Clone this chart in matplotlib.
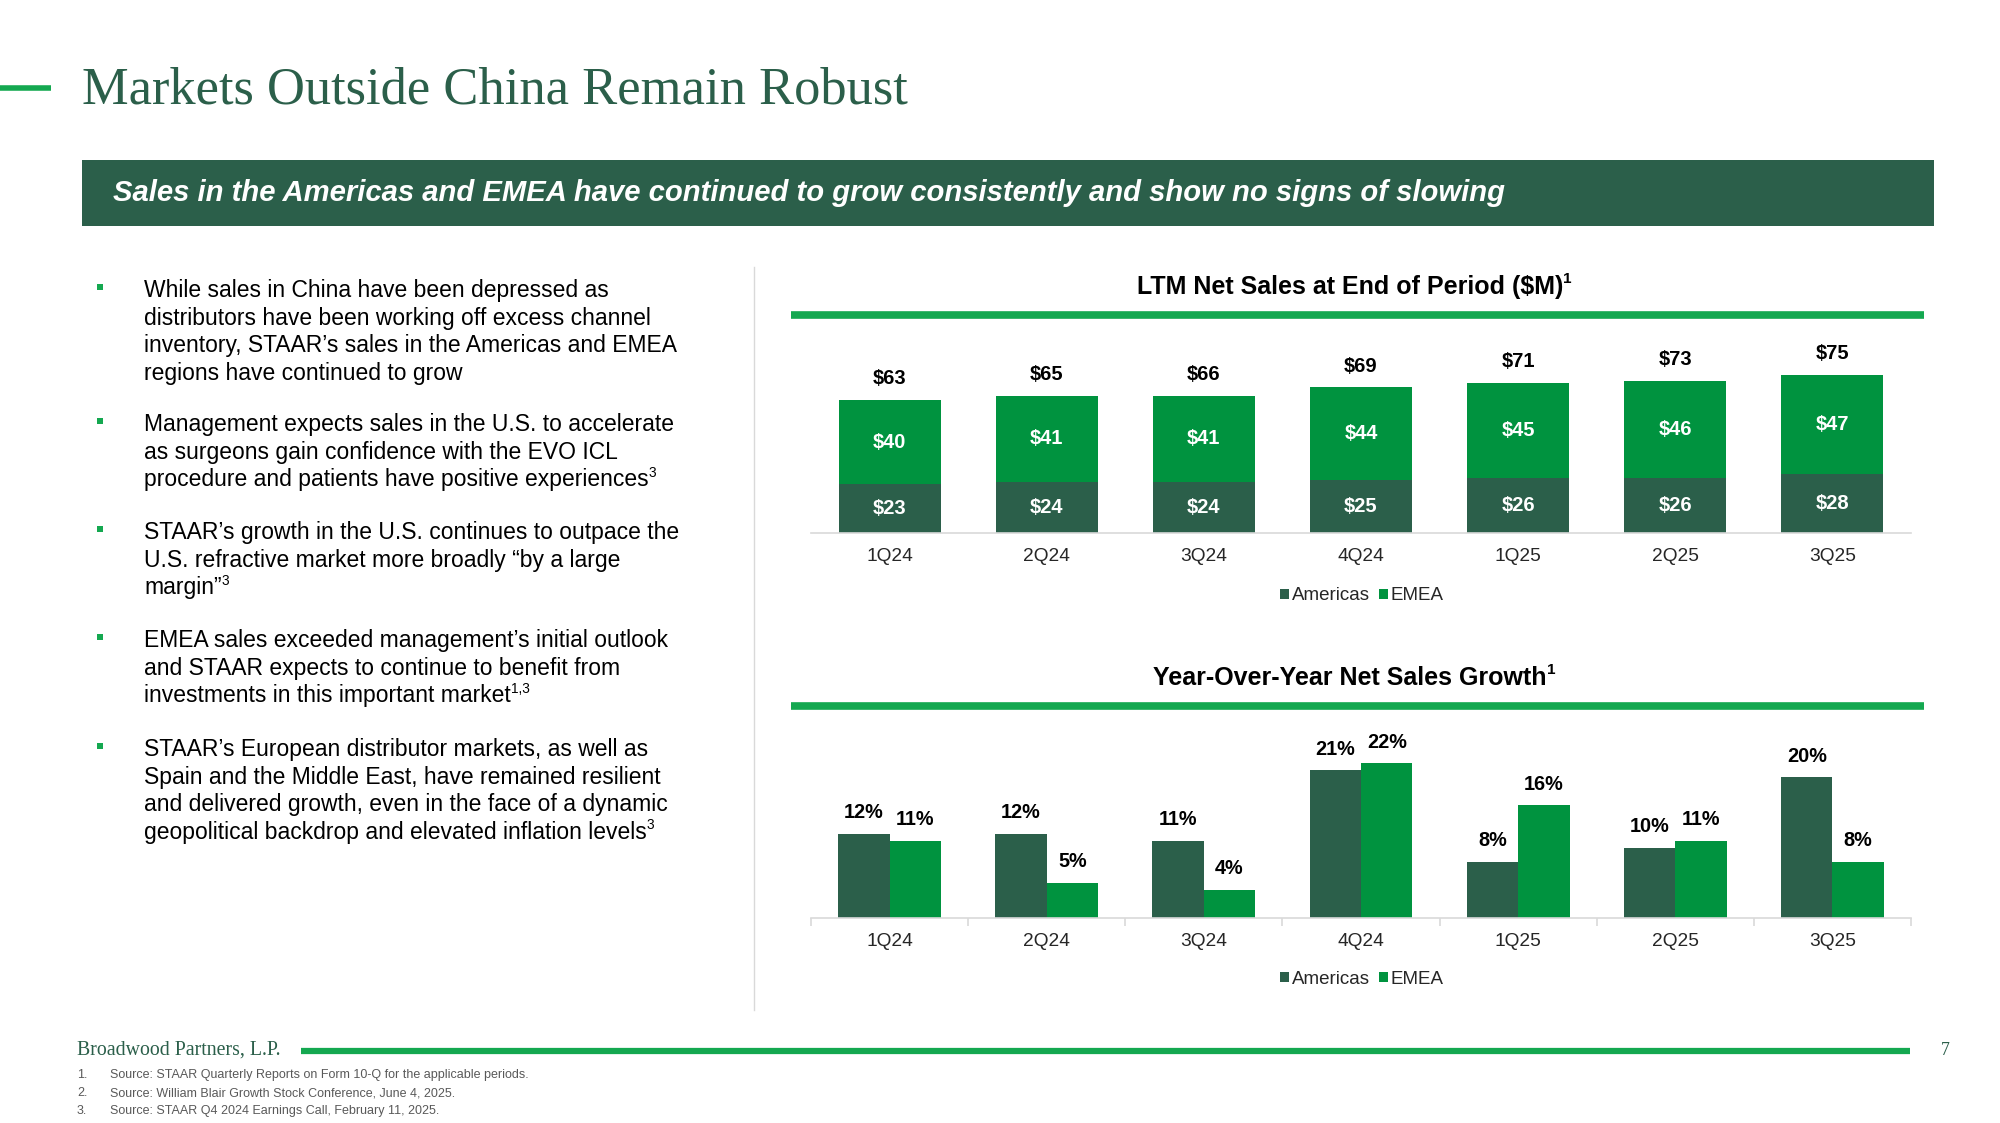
import matplotlib
matplotlib.use("Agg")
import matplotlib.pyplot as plt
from matplotlib.patches import Rectangle, Patch
from matplotlib.lines import Line2D
import numpy as np

# ---------------- data ----------------
quarters = ['1Q24', '2Q24', '3Q24', '4Q24', '1Q25', '2Q25', '3Q25']
ltm_americas = [23, 24, 24, 25, 26, 26, 28]
ltm_emea = [40, 41, 41, 44, 45, 46, 47]
ltm_total = [63, 65, 66, 69, 71, 73, 75]
yoy_americas = [12, 12, 11, 21, 8, 10, 20]
yoy_emea = [11, 5, 4, 22, 16, 11, 8]

title = "Markets Outside China Remain Robust"
banner = "Sales in the Americas and EMEA have continued to grow consistently and show no signs of slowing"
chart1_title = "LTM Net Sales at End of Period ($M)"
chart2_title = "Year-Over-Year Net Sales Growth"
bullets = [
    [("While sales in China have been depressed as", None),
     ("distributors have been working off excess channel", None),
     ("inventory, STAAR\u2019s sales in the Americas and EMEA", None),
     ("regions have continued to grow", None)],
    [("Management expects sales in the U.S. to accelerate", None),
     ("as surgeons gain confidence with the EVO ICL", None),
     ("procedure and patients have positive experiences", "3")],
    [("STAAR\u2019s growth in the U.S. continues to outpace the", None),
     ("U.S. refractive market more broadly \u201cby a large", None),
     ("margin\u201d", "3")],
    [("EMEA sales exceeded management\u2019s initial outlook", None),
     ("and STAAR expects to continue to benefit from", None),
     ("investments in this important market", "1,3")],
    [("STAAR\u2019s European distributor markets, as well as", None),
     ("Spain and the Middle East, have remained resilient", None),
     ("and delivered growth, even in the face of a dynamic", None),
     ("geopolitical backdrop and elevated inflation levels", "3")],
]
footnotes = [
    "Source: STAAR Quarterly Reports on Form 10-Q for the applicable periods.",
    "Source: William Blair Growth Stock Conference, June 4, 2025.",
    "Source: STAAR Q4 2024 Earnings Call, February 11, 2025.",
]

# ---------------- style ----------------
DARK = '#2B5F4A'
GREEN = '#00933F'
ACCENT = '#14A850'
GRAY_AX = '#D9D9D9'
SANS = 'Liberation Sans'
SERIF = 'Liberation Serif'

W, H = 2000, 1123
fig = plt.figure(figsize=(W / 100, H / 100), dpi=100)
fig.patch.set_facecolor('white')
renderer = fig.canvas.get_renderer()


def fx(x):
    return x / W


def fy(y):
    return 1 - y / H


def ptext(x, y, s, **kw):
    return fig.text(fx(x), fy(y), s, **kw)


def hline(x0, x1, y, lw, color):
    fig.add_artist(Line2D([fx(x0), fx(x1)], [fy(y), fy(y)], lw=lw, color=color,
                          solid_capstyle='butt', transform=fig.transFigure))


def text_with_sup(x, y, s, sup, size, color='black', weight='normal'):
    t = ptext(x, y, s, fontsize=size, color=color, family=SANS, weight=weight,
              va='baseline', ha='left')
    if sup:
        bb = t.get_window_extent(renderer=renderer)
        fig.text(bb.x1 / W, fy(y) + (size * 0.42 * 100 / 72) / H, sup,
                 fontsize=size * 0.6, color=color, family=SANS, weight=weight,
                 va='baseline', ha='left')
    return t


# ---------------- header ----------------
hline(0, 51, 88, 4, ACCENT)
ptext(82, 103, title, fontsize=37.8, color=DARK, family=SERIF, va='baseline', ha='left')

fig.add_artist(Rectangle((fx(82), fy(226)), fx(1934) - fx(82), fy(160) - fy(226),
                         transform=fig.transFigure, facecolor=DARK, edgecolor='none'))
ptext(113, 193, banner, fontsize=21.1, color='white', family=SANS, weight='bold',
      style='italic', va='center', ha='left')

# ---------------- bullets ----------------
para_y = [290, 424, 532, 640, 749]
line_h = 27.6
for py, lines in zip(para_y, bullets):
    fig.add_artist(Rectangle((fx(97), fy(py + 0)), 6 / W, 6 / H, transform=fig.transFigure,
                             facecolor=ACCENT, edgecolor='none'))
    for i, (s, sup) in enumerate(lines):
        text_with_sup(144, py + 7 + i * line_h, s, sup, 16.5)

# divider
fig.add_artist(Line2D([fx(754), fx(754)], [fy(267), fy(1010)], lw=1, color=GRAY_AX,
                      transform=fig.transFigure))


# ---------------- chart titles ----------------
def chart_title(cx, y, s, sup):
    t = ptext(cx, y, s, fontsize=18, weight='bold', family=SANS, ha='center', va='baseline')
    bb = t.get_window_extent(renderer=renderer)
    fig.text(bb.x1 / W, fy(y) + 11 / H, sup, fontsize=11, weight='bold',
             family=SANS, ha='left', va='baseline')


chart_title(1350, 294, chart1_title, "1")
hline(791, 1924, 315, 5.5, ACCENT)
chart_title(1350, 685, chart2_title, "1")
hline(791, 1924, 706, 5.5, ACCENT)

x = np.arange(len(quarters))

# ---------------- chart 1 ----------------
ax1 = fig.add_axes([fx(811), fy(533), (1911 - 811) / W, (533 - 364) / H])
bw = 0.65
ax1.bar(x, ltm_americas, width=bw, color=DARK, label='Americas')
ax1.bar(x, ltm_emea, width=bw, bottom=ltm_americas, color=GREEN, label='EMEA')
for i in range(len(x)):
    a, e, t = ltm_americas[i], ltm_emea[i], ltm_total[i]
    ax1.text(x[i], a / 2, f"${a}", ha='center', va='center', color='white',
             fontsize=14.5, weight='bold', family=SANS)
    ax1.text(x[i], a + e / 2, f"${e}", ha='center', va='center', color='white',
             fontsize=14.5, weight='bold', family=SANS)
    ax1.text(x[i], a + e + 10, f"${t}", ha='center', va='center', color='black',
             fontsize=14.5, weight='bold', family=SANS)
ax1.set_xlim(-0.5, 6.5)
ax1.set_ylim(0, 80)
ax1.set_yticks([])
ax1.set_xticks(x)
ax1.set_xticklabels(quarters, fontsize=13.8, family=SANS, color='#262626')
ax1.tick_params(axis='x', length=0, pad=11)
for sp in ['top', 'right', 'left']:
    ax1.spines[sp].set_visible(False)
ax1.spines['bottom'].set_color(GRAY_AX)
ax1.spines['bottom'].set_linewidth(1.2)
ax1.patch.set_alpha(0)

# ---------------- chart 2 ----------------
ax2 = fig.add_axes([fx(811), fy(918), (1911 - 811) / W, (918 - 742) / H])
bw2 = 0.327
ax2.bar(x - bw2 / 2, yoy_americas, width=bw2, color=DARK, label='Americas')
ax2.bar(x + bw2 / 2, yoy_emea, width=bw2, color=GREEN, label='EMEA')
for i in range(len(x)):
    ax2.text(x[i] - bw2 / 2, yoy_americas[i] + 3.0, f"{yoy_americas[i]}%", ha='center',
             va='center', fontsize=14.3, weight='bold', family=SANS)
    ax2.text(x[i] + bw2 / 2, yoy_emea[i] + 3.0, f"{yoy_emea[i]}%", ha='center',
             va='center', fontsize=14.3, weight='bold', family=SANS)
ax2.set_xlim(-0.5, 6.5)
ax2.set_ylim(0, 25)
ax2.set_yticks([])
ax2.set_xticks(x)
ax2.set_xticklabels(quarters, fontsize=13.8, family=SANS, color='#262626')
ax2.set_xticks(np.arange(-0.5, 7, 1), minor=True)
ax2.tick_params(axis='x', which='major', length=0, pad=11)
ax2.tick_params(axis='x', which='minor', length=6, color=GRAY_AX, width=1.2)
for sp in ['top', 'right', 'left']:
    ax2.spines[sp].set_visible(False)
ax2.spines['bottom'].set_color(GRAY_AX)
ax2.spines['bottom'].set_linewidth(1.2)
ax2.patch.set_alpha(0)

# legends
handles = [Patch(facecolor=DARK, label='Americas'), Patch(facecolor=GREEN, label='EMEA')]
for ly in [596, 979]:
    fig.legend(handles=handles, loc='center', bbox_to_anchor=(fx(1362), fy(ly)),
               ncol=2, frameon=False, prop={'family': SANS, 'size': 13.5},
               handlelength=0.5, handleheight=0.5, handletextpad=0.15, columnspacing=0.45,
               labelcolor='#262626')

# ---------------- footer ----------------
ptext(77, 1055, "Broadwood Partners, L.P.", fontsize=14.3, color=DARK, family=SERIF,
      va='baseline', ha='left')
hline(301, 1910, 1051, 4.5, ACCENT)
ptext(1941, 1055, "7", fontsize=13, color=DARK, family=SERIF, va='baseline', ha='left')
for i, s in enumerate(footnotes):
    yy = 1078 + i * 18
    ptext(77, yy, f"{i + 1}.", fontsize=9, color='#595959', family=SANS, va='baseline')
    ptext(110, yy, s, fontsize=9, color='#595959', family=SANS, va='baseline')

fig.savefig('out.png', dpi=100, facecolor='white')
